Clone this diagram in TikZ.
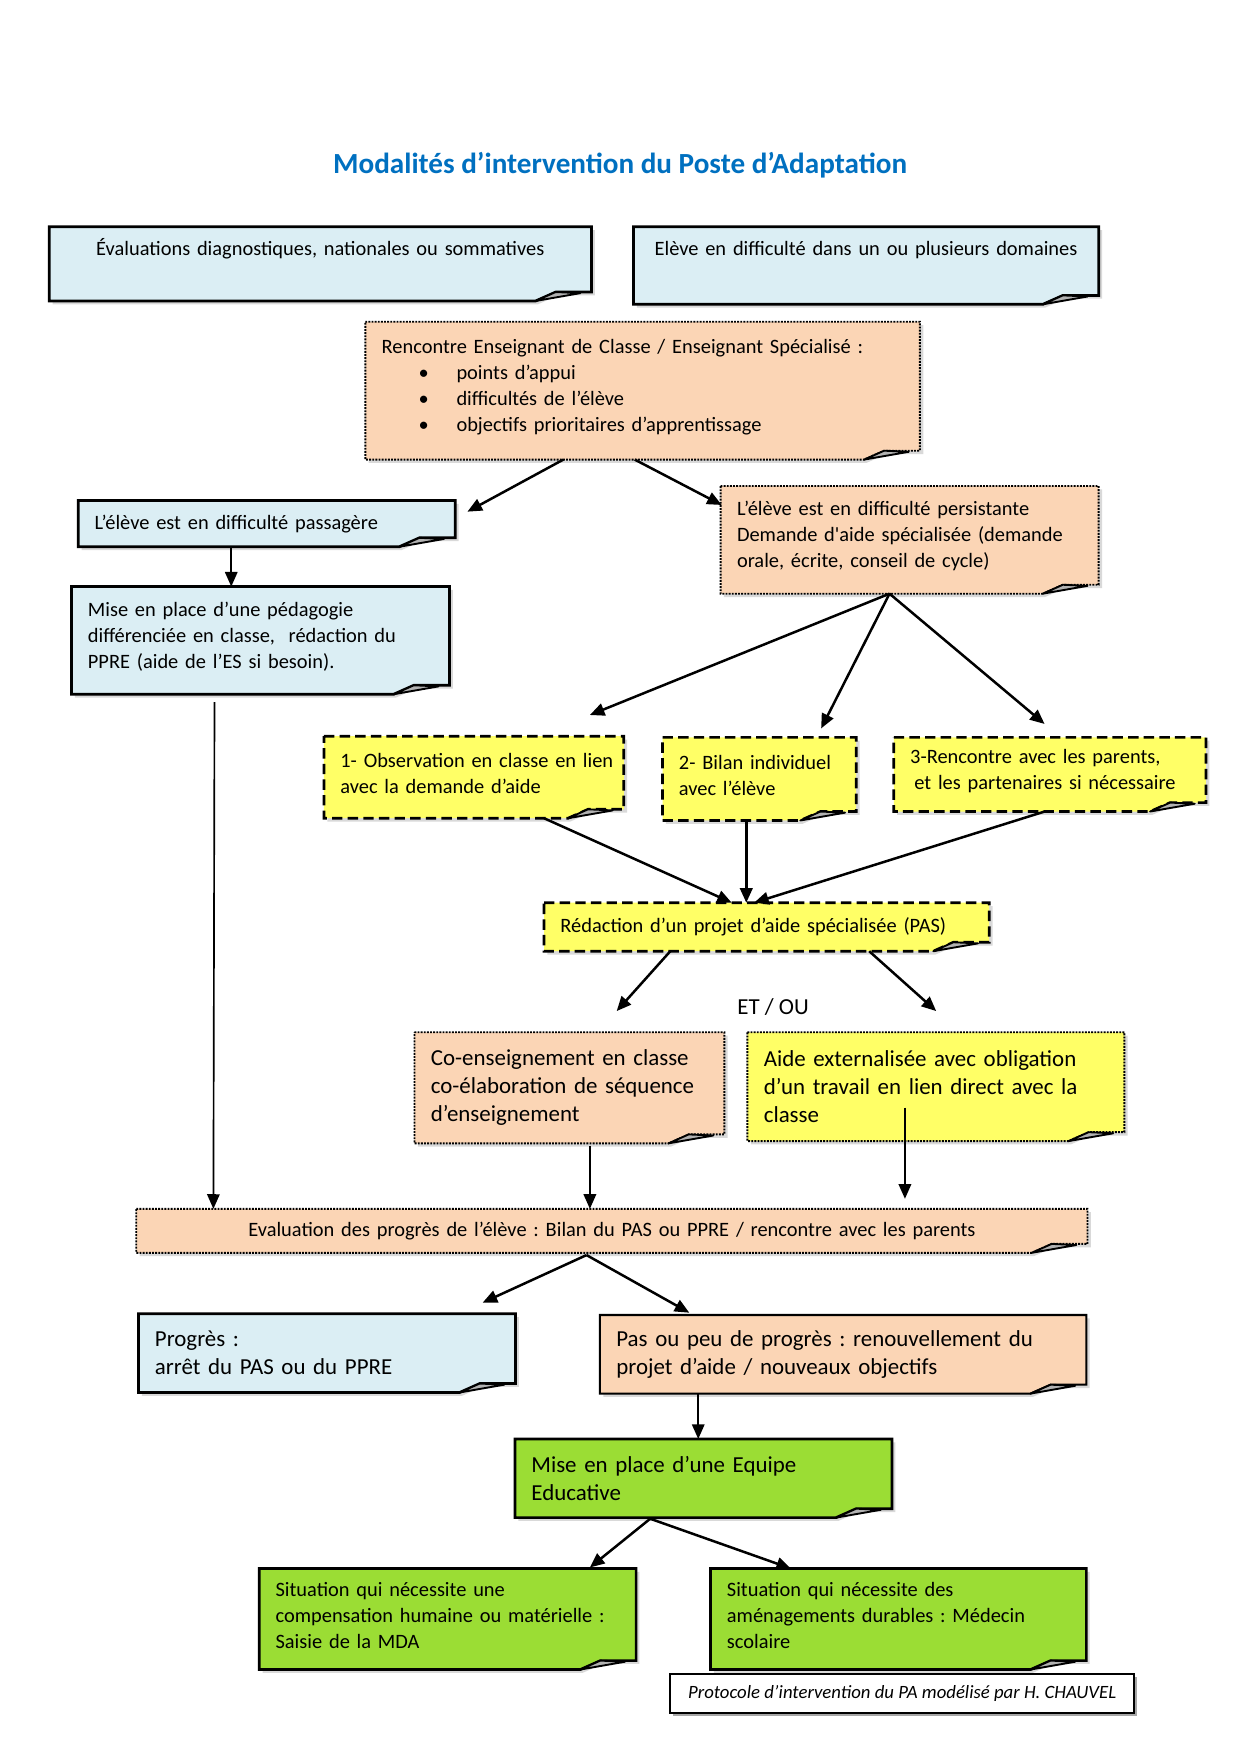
\documentclass[tikz,border=0pt]{standalone}
\usepackage{fontspec}
\setmainfont{Carlito}
\usetikzlibrary{arrows.meta,calc,backgrounds,shadows}

\newlength\ux
\setlength\ux{0.5363pt}

\definecolor{boxblue}{RGB}{219,238,244}
\definecolor{boxpeach}{RGB}{251,213,181}
\definecolor{boxyellow}{RGB}{255,255,102}
\definecolor{boxgreen}{RGB}{155,221,52}
\definecolor{titleblue}{RGB}{0,112,192}

\tikzset{every picture/.style={line width=0.75pt}}
\tikzset{
  note/.style={rectangle, anchor=north west, inner xsep=7.5pt, inner ysep=2pt, align=left,
    font=\fontsize{9.8}{12.6}\selectfont},
  lift/.style={execute at end node={\par\vspace*{3.5pt}}},
  big/.style={font=\fontsize{11}{13.4}\selectfont},
  dims/.style 2 args={minimum width=#1*\ux, minimum height=#2*\ux, text width=#1*\ux-15pt},
  solidline/.style={draw=black, line width=1.3pt, line join=miter},
  dotline/.style={draw=black, line width=0.9pt, dash pattern=on 0.9pt off 0.6pt},
  dashline/.style={draw=black, line width=1.3pt, dash pattern=on 5pt off 2.5pt},
  bluebox/.style={solidline, fill=boxblue},
  peachbox/.style={dotline, fill=boxpeach},
  peachsolidbox/.style={draw=black, line width=1pt, fill=boxpeach},
  yellowbox/.style={dashline, fill=boxyellow},
  yellowdotbox/.style={dotline, fill=boxyellow},
  greenbox/.style={solidline, fill=boxgreen},
  arr/.style={-{Triangle[length=7pt,width=6pt]}, line width=1.2pt},
  thinarr/.style={-{Triangle[length=7pt,width=6pt]}, line width=0.8pt},
}

% outline of a note with its curled corner, drawn behind node #1
\newcommand{\notebox}[2]{%
  \fill[black!15] ($(#1.north west)+(3,3)$) -- ($(#1.north east)+(3,3)$) -- ($(#1.south east)+(3,-5)$)
    -- ($(#1.south east)+(-30,-5)$) -- ($(#1.south east)+(-48,3)$) -- ($(#1.south west)+(3,3)$) -- cycle;
  \path[#2] (#1.north west) -- (#1.north east) -- ($(#1.south east)+(0,-8)$)
    -- ($(#1.south east)+(-32,-8)$) -- ($(#1.south east)+(-50,0)$) -- (#1.south west) -- cycle;
  \filldraw[fill=black!30, line width=0.9pt, line join=round] ($(#1.south east)+(-50,0)$)
    -- ($(#1.south east)+(-32,-8)$) -- ($(#1.south east)+(-10,-7)$) -- cycle;
}

\begin{document}
\frenchspacing
\begin{tikzpicture}[x=0.5363pt,y=0.5363pt,yscale=-1,xscale=1]
\useasboundingbox (0,0) rectangle (1110,1570);

% Text Node
\node[font=\fontsize{14}{17}\selectfont\bfseries, text=titleblue] (title) at (555,148) {Modalités d’intervention du Poste d’Adaptation};

%Shape: Notes
\node[note, lift, dims={484}{65}, align=center] (evals) at (44,203) {Évaluations diagnostiques, nationales ou sommatives\\\mbox{}};
\node[note, lift, dims={415}{68}, align=center] (difficulte) at (567,203) {Elève en difficulté dans un ou plusieurs domaines\\\mbox{}};
\node[note, lift, dims={495}{122}] (rencontre) at (327,288) {Rencontre Enseignant de Classe / Enseignant Spécialisé :\\
  \hspace*{17.7pt}\makebox[18.2pt][l]{\textbullet}points d’appui\\
  \hspace*{17.7pt}\makebox[18.2pt][l]{\textbullet}difficultés de l’élève\\
  \hspace*{17.7pt}\makebox[18.2pt][l]{\textbullet}objectifs prioritaires d’apprentissage};
\node[note, dims={336}{40}] (passagere) at (70,448) {L’élève est en difficulté passagère};
\node[note, lift, dims={337}{95}] (persistante) at (645,435) {L’élève est en difficulté persistante\\Demande d\textquotesingle aide spécialisée (demande\\orale, écrite, conseil de cycle)};
\node[note, lift, dims={337}{95}] (pedagogie) at (64,525) {Mise en place d’une pédagogie\\différenciée en classe,~ rédaction du\\PPRE (aide de l’ES si besoin).};
\node[note, lift, dims={267}{72}] (observation) at (290,659) {\mbox{1- Observation en classe en lien}\\avec la demande d’aide};
\node[note, lift, dims={172}{73}] (bilan) at (593,660) {2- Bilan individuel\\avec l’élève};
\node[note, lift, dims={278}{65}] (parents) at (800,660) {3-Rencontre avec les parents,\\\hspace*{2pt}et les partenaires si nécessaire};
\node[note, dims={397}{42}] (projet) at (487,808) {Rédaction d’un projet d’aide spécialisée (PAS)};
\node[note, big, dims={276}{98}] (coens) at (371,924) {Co-enseignement en classe\\co-élaboration de séquence\\d’enseignement};
\node[note, big, dims={336}{96}] (externe) at (669,924) {Aide externalisée avec obligation\\d’un travail en lien direct avec la\\classe};
\node[note, dims={850}{38}, align=center] (evaluation) at (122,1082) {Evaluation des progrès de l’élève : Bilan du PAS ou PPRE / rencontre avec les parents};
\node[note, big, dims={336}{69}] (progres) at (124,1176) {Progrès :\\arrêt du PAS ou du PPRE};
\node[note, big, dims={434}{69}] (renouv) at (537,1177) {Pas ou peu de progrès : renouvellement du\\projet d’aide / nouveaux objectifs};
\node[note, big, dims={336}{69}] (equipe) at (461,1288) {Mise en place d’une Equipe\\Educative};
\node[note, lift, dims={336}{89}] (mda) at (232,1404) {Situation qui nécessite une\\compensation humaine ou matérielle :\\Saisie de la MDA};
\node[note, lift, dims={335}{89}] (medecin) at (636,1404) {Situation qui nécessite des\\aménagements durables : Médecin\\scolaire};

% Text Node
\node[font=\fontsize{11}{13.4}\selectfont] (etou) at (692,901) {ET / OU};
% Text Node
\node[draw, fill=white, line width=1pt, drop shadow={fill=black!35, opacity=1, shadow xshift=1.5pt, shadow yshift=-1.5pt},
  minimum width=415*\ux, minimum height=35*\ux, font=\itshape\fontsize{9}{11}\selectfont] (credit) at (807.5,1515.5)
  {Protocole d’intervention du PA modélisé par H. CHAUVEL};

\begin{scope}[on background layer]
\foreach \n/\s in {evals/bluebox, difficulte/bluebox, rencontre/peachbox, passagere/bluebox,
  persistante/peachbox, pedagogie/bluebox, observation/yellowbox, bilan/yellowbox, parents/yellowbox,
  projet/yellowbox, coens/peachbox, externe/yellowdotbox, evaluation/peachbox, progres/bluebox,
  renouv/peachsolidbox, equipe/greenbox, mda/greenbox, medecin/greenbox}
  {\notebox{\n}{\s}}
\end{scope}

%Straight Lines
\draw[arr] ($(rencontre.south)+(-71,0)$) -- ($(passagere.north east)+(11,10)$);
\draw[arr] ($(rencontre.south)+(-7,0)$) -- ($(persistante.north west)+(1,17)$);
\draw[thinarr] ($(passagere.south west)+(137,0)$) -- ($(pedagogie.north west)+(143,0)$);
\draw[thinarr] ($(pedagogie.south west)+(128,7)$) -- ($(evaluation.north west)+(69,0)$);
\draw[arr] ($(persistante.south)+(-18,0)$) -- ($(observation.north west)+(238,-19)$);
\draw[arr] ($(persistante.south)+(-18,0)$) -- ($(bilan.north west)+(142,-8)$);
\draw[arr] ($(persistante.south)+(-18,0)$) -- ($(parents.north west)+(135,-12)$);
\draw[arr] ($(observation.south west)+(197,0)$) -- ($(projet.north west)+(168,0)$);
\draw[arr] ($(bilan.south west)+(75,0)$) -- ($(projet.north west)+(181,0)$);
\draw[arr] ($(parents.south west)+(135,0)$) -- ($(projet.north west)+(188,0)$);
\draw[arr] ($(projet.south west)+(113,0)$) -- ($(coens.north west)+(181,-19)$);
\draw[arr] ($(projet.south west)+(291,0)$) -- ($(externe.north west)+(169,-19)$);
\draw[thinarr] ($(coens.south west)+(157,2)$) -- ($(evaluation.north west)+(406,0)$);
\draw[thinarr] ($(externe.south west)+(141,-30)$) -- ($(evaluation.north west)+(688,-9)$);
\draw[arr] ($(evaluation.south west)+(403,2)$) -- ($(progres.north west)+(308,-10)$);
\draw[arr] ($(evaluation.south west)+(403,2)$) -- ($(renouv.north west)+(80,-2)$);
\draw[thinarr] ($(renouv.south west)+(88,0)$) -- ($(equipe.north west)+(164,0)$);
\draw[arr] ($(equipe.south west)+(121,1)$) -- ($(mda.north west)+(296,-1)$);
\draw[arr] ($(equipe.south west)+(121,1)$) -- ($(medecin.north west)+(72,0)$);

\end{tikzpicture}
\end{document}
